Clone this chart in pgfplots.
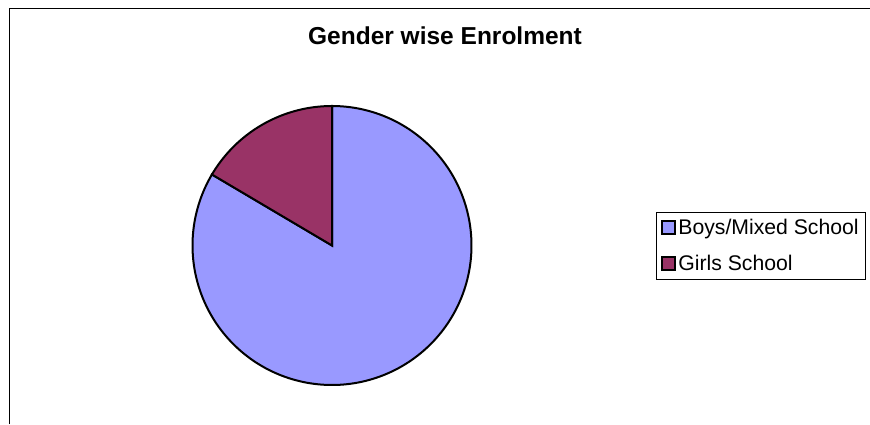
\documentclass[border=0pt]{standalone}
\usepackage{pgfplots}
\usepackage{pgfplotstable}
\pgfplotsset{compat=1.18}
\usepackage{fontspec}
\setmainfont{Liberation Sans}

\definecolor{boys}{HTML}{9999FF}
\definecolor{girls}{HTML}{993366}

% share of enrolment, percent
\pgfplotstableread{
category share
Boys 83.5
Girls 16.5
}\enrol
\pgfplotstablegetelem{0}{share}\of\enrol \let\boysshare\pgfplotsretval
\pgfplotstablegetelem{1}{share}\of\enrol \let\girlsshare\pgfplotsretval
% Excel pies start at 12 o'clock and run clockwise
\pgfmathsetmacro\boysend{90-3.6*\boysshare}
\pgfmathsetmacro\girlsend{90+3.6*\girlsshare}

\begin{document}
\begin{tikzpicture}
\begin{axis}[
    width=870pt, height=424pt, scale only axis,
    xmin=0, xmax=870, ymin=0, ymax=424,
    hide axis, clip=false,
    legend cell align=left,
    legend style={at={(axis cs:656,212)}, anchor=north west,
        draw=black, line width=0.8pt,
        font=\fontsize{21.2}{24}\selectfont,
        inner xsep=5pt, inner ysep=5pt, row sep=15pt,
        /tikz/every even column/.append style={column sep=3pt}},
    legend image code/.code={\draw[#1,line width=2pt] (0pt,-6.5pt) rectangle (13pt,6.5pt);},
]
% chart frame
\addplot[forget plot, black, line width=0.9pt] coordinates {(9,0) (9,415.5) (870,415.5)};

\addplot[draw=black, fill=boys, line width=2pt, domain=\boysend:90, samples=200]
    ({332+139.5*cos(x)}, {178.5+139.5*sin(x)}) -- (axis cs:332,178.5) -- cycle;
\addlegendentry{Boys/Mixed School}
\addplot[draw=black, fill=girls, line width=2pt, domain=90:\girlsend, samples=60]
    ({332+139.5*cos(x)}, {178.5+139.5*sin(x)}) -- (axis cs:332,178.5) -- cycle;
\addlegendentry{Girls School}

\node[font=\fontsize{24.5}{29}\selectfont\bfseries, anchor=base] at (axis cs:445,379) {Gender wise Enrolment};
\end{axis}
\pgfresetboundingbox
\useasboundingbox (current axis.south west) rectangle (current axis.north east);
\end{tikzpicture}
\end{document}
